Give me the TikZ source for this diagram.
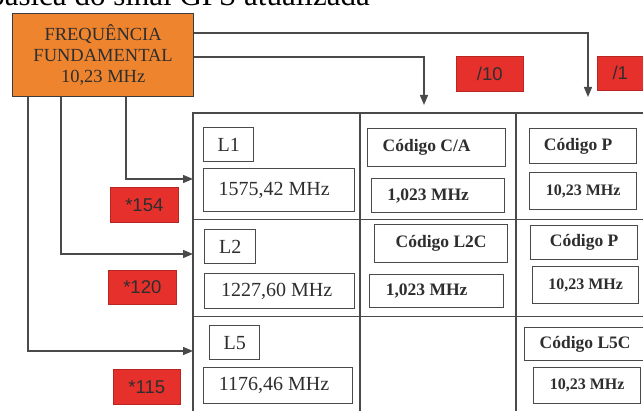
\documentclass[tikz,border=0pt]{standalone}
\usepackage{fontspec}
\setmainfont{Liberation Serif}
\setsansfont{Liberation Sans}
\usetikzlibrary{arrows.meta}
\definecolor{linec}{HTML}{4A4A4A}
\definecolor{orangef}{HTML}{EF842F}
\definecolor{redf}{HTML}{E5302C}
\definecolor{txt}{HTML}{2E2E2E}
\newcommand{\myTxtShift}[1]{\hspace*{-#1}}
\begin{document}
\begin{tikzpicture}[x=1pt,y=-1pt,
  conn/.style={draw=linec, line width=1.3pt},
  arr/.style={conn, -{Triangle[length=10pt,width=8pt]}},
  cellbox/.style={draw=linec, line width=1.3pt, inner sep=0pt, anchor=north west, text=txt},
  redbox/.style={fill=redf, draw=redf!80!black, line width=0.6pt, inner sep=0pt, anchor=north west,
    font=\sffamily\fontsize{18.5}{20}\selectfont, text=txt},
  regtxt/.style={font=\fontsize{20}{22}\selectfont},
  boldtxt/.style={font=\bfseries\fontsize{17.5}{20}\selectfont},
  smalltxt/.style={font=\bfseries\fontsize{16}{18}\selectfont}
]
\useasboundingbox (0,0) rectangle (643,411);
\fill[white] (0,0) rectangle (643,411);

% cut-off caption (cropped at the top of the figure, as in the reference)
\node[anchor=base east, inner sep=0pt, font=\fontsize{31}{33}\selectfont, text=black] (cap) at (370,6) {básica do sinal GPS atualizada};

% fundamental frequency box
\node[draw=linec!80!black, line width=1.3pt, fill=orangef, anchor=north west, minimum width=181pt, minimum height=83pt,
  inner sep=0pt, align=center, text=txt, font=\fontsize{18.5}{21}\selectfont] (freq) at (12,13)
  {FREQUÊNCIA\\FUNDAMENTAL\\10,23 MHz};

% table grid
\draw[conn] (193,411) -- (193,113) -- (645,113);
\draw[conn] (360,113) -- (360,411);
\draw[conn] (516,113) -- (516,411);
\draw[conn] (193,219.5) -- (645,219.5);
\draw[conn] (193,316.5) -- (645,316.5);

% arrow targets
\coordinate (in1) at (193,179);
\coordinate (in2) at (193,254);
\coordinate (in5) at (193,351);
\coordinate (top10) at (424,105);
\coordinate (top1) at (588,97);

\draw[arr] ([xshift=114pt]freq.south west) |- (in1);
\draw[arr] ([xshift=49pt]freq.south west) |- (in2);
\draw[arr] ([xshift=16pt]freq.south west) |- (in5);
\draw[arr] ([yshift=-44pt]freq.north east) -| (top10);
\draw[arr] ([yshift=-20pt]freq.north east) -| (top1);

% red multiplier / divider labels
\node[redbox, minimum width=67pt, minimum height=35pt] (d10) at (456,56) {/10};
\node[redbox, minimum width=60pt, minimum height=34pt] (d1) at (597,56) {\myTxtShift{14pt}/1};
\node[redbox, minimum width=68pt, minimum height=35pt] (m154) at (110,187) {*154};
\node[redbox, minimum width=68pt, minimum height=34pt] (m120) at (108,270) {*120};
\node[redbox, minimum width=67pt, minimum height=35pt] (m115) at (113,369) {*115};

% column 1
\node[cellbox, regtxt, minimum width=50pt, minimum height=34pt] (l1) at (203,127) {L1};
\node[cellbox, regtxt, minimum width=151pt, minimum height=43pt] (f1) at (203,168) {\myTxtShift{10pt}1575,42 MHz};
\node[cellbox, regtxt, minimum width=51pt, minimum height=34pt] (l2) at (204,229) {L2};
\node[cellbox, regtxt, minimum width=150pt, minimum height=35pt] (f2) at (204,273) {\myTxtShift{6pt}1227,60 MHz};
\node[cellbox, regtxt, minimum width=50pt, minimum height=34pt] (l5) at (209,325) {L5};
\node[cellbox, regtxt, minimum width=149pt, minimum height=36pt] (f5) at (203,367) {\myTxtShift{8pt}1176,46 MHz};

% column 2
\node[cellbox, boldtxt, minimum width=138pt, minimum height=38pt] (ca) at (367,128) {\myTxtShift{20pt}Código C/A};
\node[cellbox, boldtxt, minimum width=133pt, minimum height=34pt] (caf) at (371,178) {\myTxtShift{20pt}1,023 MHz};
\node[cellbox, boldtxt, minimum width=133pt, minimum height=38pt] (l2c) at (374,224) {Código L2C};
\node[cellbox, boldtxt, minimum width=134pt, minimum height=33pt] (l2cf) at (369,274) {\myTxtShift{20pt}1,023 MHz};

% column 3
\node[cellbox, boldtxt, minimum width=107pt, minimum height=35pt] (p1) at (529,128) {\myTxtShift{10pt}Código P};
\node[cellbox, smalltxt, minimum width=107pt, minimum height=37pt] (p1f) at (529,172) {10,23 MHz};
\node[cellbox, boldtxt, minimum width=107pt, minimum height=34pt] (p2) at (530,225) {Código P};
\node[cellbox, smalltxt, minimum width=106pt, minimum height=37pt] (p2f) at (532,266) {10,23 MHz};
\node[cellbox, boldtxt, minimum width=121pt, minimum height=33pt] (l5c) at (524,327) {Código L5C};
\node[cellbox, smalltxt, minimum width=107pt, minimum height=36pt] (l5cf) at (533,367) {10,23 MHz};
\end{tikzpicture}
\end{document}
